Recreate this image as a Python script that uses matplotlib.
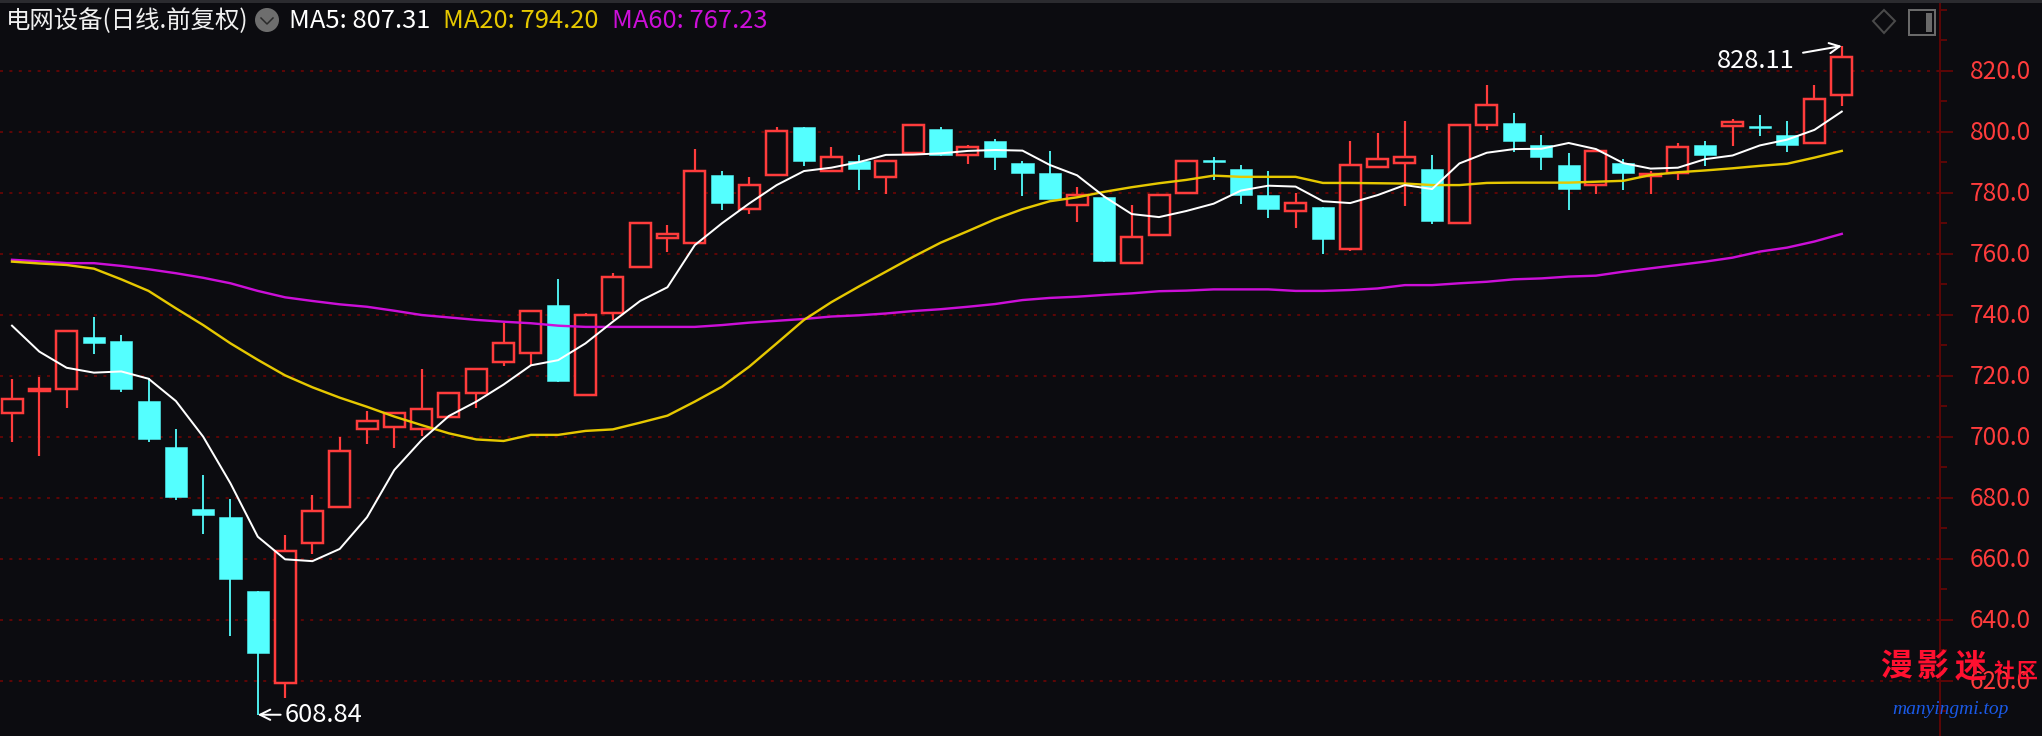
#!/usr/bin/env python3
"""Daily candlestick chart of the power grid equipment index, dark terminal style."""

import matplotlib

matplotlib.use("Agg")
import matplotlib.pyplot as plt
from matplotlib.patches import Circle, Polygon, Rectangle
from matplotlib.ticker import MultipleLocator
from matplotlib.transforms import ScaledTranslation
import numpy as np

TITLE = "电网设备(日线.前复权)"
MA_LABELS = ["MA5: 807.31", "MA20: 794.20", "MA60: 767.23"]

OPENS = [
    707.7, 714.9, 715.5, 732.7, 731.4, 711.7, 696.6, 676.3, 673.7, 649.4,
    619.1, 665.2, 676.8, 702.5, 703.1, 702.4, 706.4, 714.2, 724.6, 727.3,
    743.2, 713.6, 740.5, 755.5, 765.3, 763.4, 785.8, 774.5, 785.7, 801.5,
    787.0, 790.4, 785.0, 792.9, 800.9, 792.3, 797.0, 789.7, 786.5, 775.9,
    778.6, 756.8, 766.0, 779.8, 790.6, 787.8, 779.2, 773.9, 775.3, 761.4,
    788.4, 789.6, 787.8, 770.1, 802.1, 802.9, 795.6, 789.1, 782.4, 789.7,
    785.6, 786.4, 795.6, 802.0, 801.8, 798.9, 796.2, 811.9,
]
HIGHS = [
    718.9, 719.5, 734.8, 739.1, 733.3, 719.1, 702.4, 687.4, 679.5, 649.4,
    667.7, 680.8, 699.9, 708.4, 708.2, 722.1, 714.4, 722.3, 737.4, 741.5,
    751.6, 740.5, 753.6, 770.2, 769.3, 794.2, 787.1, 785.0, 801.4, 801.5,
    795.0, 792.4, 790.5, 802.5, 801.5, 795.6, 797.6, 790.4, 793.7, 781.9,
    778.6, 776.0, 779.4, 790.5, 791.7, 789.1, 787.1, 779.9, 775.3, 796.8,
    799.5, 803.5, 792.4, 802.3, 815.3, 806.1, 798.9, 793.0, 794.0, 791.1,
    787.1, 796.3, 797.0, 804.2, 805.5, 803.5, 815.3, 828.11,
]
LOWS = [
    698.4, 693.8, 709.5, 727.2, 714.8, 698.4, 679.3, 668.2, 634.8, 608.84,
    614.4, 661.7, 676.8, 697.7, 696.4, 700.2, 706.4, 709.5, 723.3, 723.5,
    717.9, 713.6, 738.3, 755.5, 760.7, 763.4, 774.3, 773.1, 785.7, 788.8,
    787.0, 780.9, 779.6, 792.9, 792.0, 789.4, 787.4, 778.9, 777.9, 770.4,
    757.3, 756.8, 766.0, 779.8, 784.2, 776.3, 771.7, 768.4, 759.9, 760.8,
    788.4, 775.8, 769.9, 770.1, 800.6, 793.5, 787.4, 774.3, 779.6, 780.9,
    779.6, 784.2, 788.8, 795.3, 798.6, 793.4, 796.2, 808.4,
]
CLOSES = [
    712.4, 715.8, 734.8, 730.7, 715.6, 699.3, 680.2, 674.3, 653.4, 629.1,
    662.6, 675.8, 695.4, 705.3, 707.9, 709.2, 714.4, 722.3, 730.8, 741.3,
    718.3, 740.0, 752.5, 770.2, 766.4, 787.1, 776.6, 782.6, 800.3, 790.4,
    791.8, 787.8, 790.5, 802.3, 792.5, 795.1, 791.7, 786.5, 777.9, 779.2,
    757.6, 765.6, 779.4, 790.5, 790.2, 779.2, 774.7, 776.7, 764.8, 789.2,
    791.2, 791.8, 770.8, 802.3, 808.8, 797.0, 791.7, 781.2, 793.8, 786.5,
    786.0, 795.1, 792.4, 803.1, 801.3, 795.6, 810.8, 824.6,
]
MA5 = [
    736.4, 727.9, 722.6, 721.0, 721.4, 719.0, 711.7, 700.0, 684.7, 667.2,
    659.8, 659.2, 663.2, 673.6, 689.1, 698.9, 706.8, 711.5, 717.1, 723.4,
    725.1, 730.6, 737.7, 744.5, 749.0, 762.8, 770.0, 776.5, 782.5, 787.1,
    788.2, 790.0, 792.4, 792.5, 792.9, 793.7, 794.0, 793.8, 789.1, 785.7,
    778.7, 773.0, 772.0, 774.0, 776.4, 780.7, 782.3, 782.0, 777.2, 776.6,
    779.2, 782.5, 781.2, 789.6, 793.1, 794.3, 794.4, 796.3, 794.3, 789.7,
    787.9, 788.2, 791.0, 792.2, 795.5, 797.4, 800.6, 806.6,
]
MA20 = [
    757.4, 756.8, 756.3, 755.1, 751.6, 747.8, 742.1, 736.6, 730.6, 725.2,
    720.1, 716.2, 712.8, 709.8, 706.6, 703.8, 701.1, 699.1, 698.6, 700.6,
    700.6, 701.9, 702.4, 704.6, 706.9, 711.5, 716.4, 723.0, 730.6, 738.3,
    744.1, 749.2, 754.1, 759.0, 763.6, 767.4, 771.3, 774.6, 777.2, 778.5,
    780.3, 781.8, 783.1, 784.2, 785.6, 785.2, 785.2, 785.2, 783.2, 783.2,
    783.1, 783.0, 782.5, 782.5, 783.2, 783.3, 783.3, 783.3, 783.6, 783.9,
    785.8, 786.7, 787.3, 788.0, 788.8, 789.5, 791.5, 793.7,
]
MA60 = [
    758.0, 757.5, 756.9, 756.9, 756.0, 754.9, 753.6, 752.1, 750.3, 747.8,
    745.7, 744.5, 743.4, 742.6, 741.3, 739.9, 739.1, 738.3, 737.7, 737.2,
    736.4, 736.0, 736.0, 736.0, 736.0, 736.0, 736.6, 737.4, 738.0, 738.6,
    739.4, 739.8, 740.4, 741.2, 741.8, 742.6, 743.5, 744.8, 745.5, 745.9,
    746.5, 747.0, 747.7, 747.9, 748.3, 748.3, 748.3, 747.8, 747.8, 748.1,
    748.6, 749.7, 749.7, 750.3, 750.8, 751.6, 751.9, 752.5, 752.8, 754.1,
    755.2, 756.3, 757.4, 758.7, 760.7, 762.0, 764.0, 766.5,
]
Y_TICKS = [620, 640, 660, 680, 700, 720, 740, 760, 780, 800, 820]

BG = "#0c0c10"
RED = "#ff3c3c"
CYAN = "#54ffff"
WHITE = "#ffffff"
YELLOW = "#e6c800"
MAGENTA = "#cc0fd8"
GRID = "#5c0606"
AXIS = "#5a0606"
CJK = ["Noto Sans CJK SC", "DejaVu Sans"]

WIDTH, HEIGHT = 2042, 736
AXIS_X = 1940
BODY_W = 21 / 27.31


def px(n):
    """Pixels to points at dpi 100."""
    return n * 0.72


fig = plt.figure(figsize=(WIDTH / 100, HEIGHT / 100), dpi=100, facecolor=BG)
ax = fig.add_axes([0, 0, AXIS_X / WIDTH, 1], facecolor=BG)
ax.set_xlim(-12 / 27.31, (AXIS_X - 12) / 27.31)
ax.set_ylim(601.87, 843.18)

for spine in ("top", "left", "bottom"):
    ax.spines[spine].set_visible(False)
ax.spines["right"].set_color(AXIS)
ax.spines["right"].set_linewidth(px(2))
ax.set_xticks([])
ax.yaxis.tick_right()
ax.set_yticks(Y_TICKS, [f"{t:.1f}" for t in Y_TICKS], family=CJK, fontsize=17.6, color=RED)
ax.yaxis.set_minor_locator(MultipleLocator(10))
ax.tick_params(axis="y", which="major", length=px(13), width=px(2), color=AXIS, pad=px(17))
ax.tick_params(axis="y", which="minor", length=px(7), width=px(2), color=AXIS)
label_shift = ScaledTranslation(0, 2 / 100, fig.dpi_scale_trans)
for label in ax.get_yticklabels():
    label.set_transform(label.get_transform() + label_shift)
for t in Y_TICKS:
    ax.axhline(t, color=GRID, lw=px(2), ls=(0, (1.5, 3.2)), zorder=1)

x = np.arange(len(CLOSES))
opens, highs, lows, closes = map(np.array, (OPENS, HIGHS, LOWS, CLOSES))
up = closes >= opens
top = np.maximum(opens, closes)
bottom = np.minimum(opens, closes)

ax.vlines(x[up], top[up], highs[up], color=RED, lw=px(2.2), zorder=2)
ax.vlines(x[up], lows[up], bottom[up], color=RED, lw=px(2.2), zorder=2)
ax.vlines(x[~up], lows[~up], highs[~up], color=CYAN, lw=px(1.8), zorder=2)
ax.bar(x[up], (top - bottom)[up], bottom=bottom[up], width=BODY_W,
       facecolor=BG, edgecolor=RED, linewidth=px(2.5), zorder=3)
ax.bar(x[~up], (top - bottom)[~up], bottom=bottom[~up], width=BODY_W + 0.04,
       facecolor=CYAN, edgecolor=CYAN, linewidth=px(0.5), zorder=3)

ax.plot(x, MA60, color=MAGENTA, lw=px(2.4), zorder=4)
ax.plot(x, MA20, color=YELLOW, lw=px(2.4), zorder=4)
ax.plot(x, MA5, color=WHITE, lw=px(2), zorder=5)

# extreme labels with their small arrows
low_i = int(lows.argmin())
high_i = int(highs.argmax())
ax.annotate(f"{lows[low_i]:.2f}", xy=(low_i, lows[low_i]), xytext=(27, 0),
            textcoords="offset pixels", color=WHITE, fontsize=18.4, family=CJK, va="center",
            arrowprops=dict(arrowstyle="->", color=WHITE, lw=px(2), shrinkA=1, shrinkB=0))
ax.annotate(f"{highs[high_i]:.2f}", xy=(high_i, highs[high_i]), xytext=(-47, -15),
            textcoords="offset pixels", color=WHITE, fontsize=18.4, family=CJK, va="center",
            ha="right", arrowprops=dict(arrowstyle="->", color=WHITE, lw=px(2), shrinkA=4, shrinkB=0))

# header strip
fig.add_artist(Rectangle((0, 1 - 3 / HEIGHT), 1, 3 / HEIGHT, transform=fig.transFigure,
                         facecolor="#2b2b2f", edgecolor="none"))


def fig_text(px_x, px_y, text, **kwargs):
    fig.text(px_x / WIDTH, 1 - px_y / HEIGHT, text, va="center", **kwargs)


fig_text(6, 21, TITLE, color="#f0f0f0", fontsize=17.6, family=CJK)
fig_text(289, 21, MA_LABELS[0], color=WHITE, fontsize=18.4, family=CJK)
fig_text(443, 21, MA_LABELS[1], color=YELLOW, fontsize=18.4, family=CJK)
fig_text(612, 21, MA_LABELS[2], color=MAGENTA, fontsize=18.4, family=CJK)

overlay = fig.add_axes([0, 0, 1, 1], facecolor="none")
overlay.set_xlim(0, WIDTH)
overlay.set_ylim(HEIGHT, 0)
overlay.axis("off")
overlay.add_patch(Circle((267, 20), 12, facecolor="#6e6e6e", edgecolor="none"))
overlay.plot([261, 267, 273], [18, 24, 18], color="#2a2a2a", lw=px(1.5))
overlay.add_patch(Polygon([(1884, 10), (1895, 21), (1884, 33), (1873, 21)], closed=True,
                          facecolor="none", edgecolor="#4a4a4a", lw=px(2)))
overlay.add_patch(Rectangle((1909, 10), 26, 25, facecolor="none", edgecolor="#6a6a6a", lw=px(2)))
overlay.add_patch(Rectangle((1926, 13), 6, 19, facecolor="#6a6a6a", edgecolor="none"))

# site watermark
for wx, ch in zip((1896, 1933, 1971), "漫影迷"):
    overlay.text(wx, 667, ch, color="#ff1030", fontsize=23, fontweight="bold", family=CJK,
                 ha="center", va="center")
for wx, ch in zip((2004, 2027), "社区"):
    overlay.text(wx, 671, ch, color="#ff1030", fontsize=15, fontweight="bold", family=CJK,
                 ha="center", va="center")
overlay.text(1950, 710, "manyingmi.top", color="#1a5ae8", fontsize=14, style="italic",
             family="Liberation Serif", ha="center", va="center")

fig.savefig("out.png", dpi=100, facecolor=BG)
plt.close(fig)
